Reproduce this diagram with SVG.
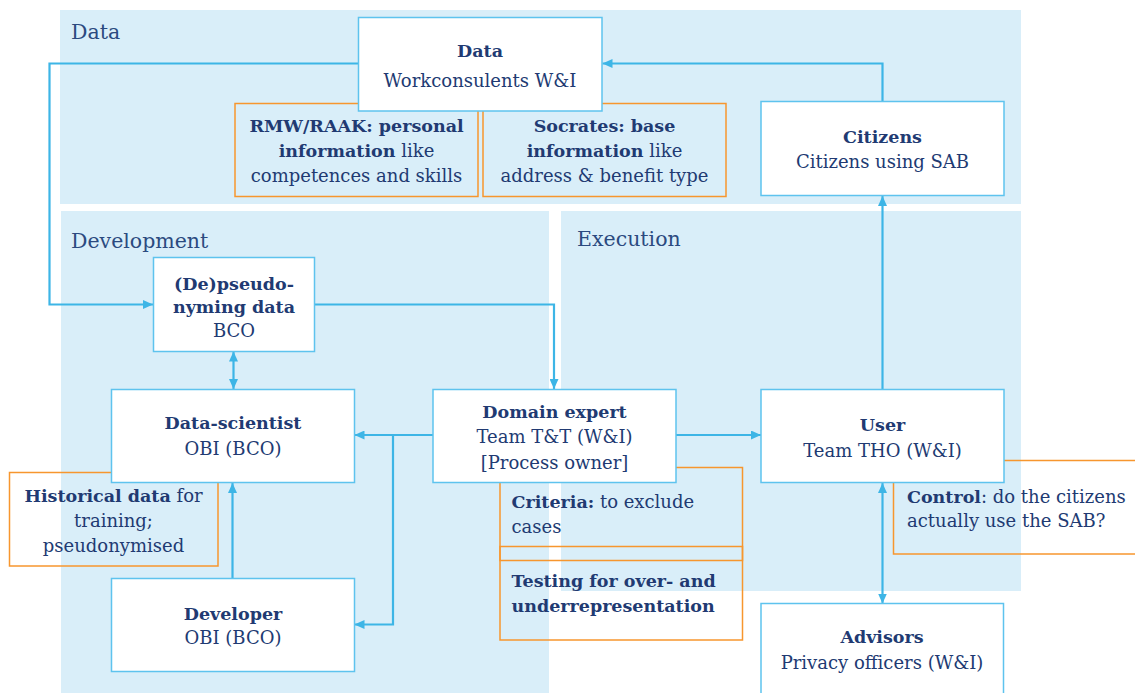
<svg xmlns="http://www.w3.org/2000/svg" width="1135" height="693" viewBox="0 0 1135 693">
  <defs>
    <marker id="arrow" viewBox="0 0 10 9" refX="10" refY="4.5" markerWidth="10" markerHeight="9" markerUnits="userSpaceOnUse" orient="auto-start-reverse">
      <path d="M0,0 L10,4.5 L0,9 z" fill="#3db5e6"/>
    </marker>
    <style>
      .panel { fill: #d9eef9; }
      .node { fill: #ffffff; stroke: #5ec3ee; stroke-width: 1.5; }
      .note { fill: none; stroke: #f7962e; stroke-width: 1.5; }
      .conn { fill: none; stroke: #3db5e6; stroke-width: 2.2; }
      text { font-family: "DejaVu Serif", "Liberation Serif", serif; font-size: 18px; fill: #213a72; }
      .c { text-anchor: middle; }
      .b { font-weight: bold; font-size: 17.5px; }
      .sec { font-size: 20.5px; fill: #2b4a80; }
    </style>
  </defs>

  <!-- swimlane backgrounds -->
  <g id="lanes">
    <rect class="panel" x="60" y="10" width="961" height="194"/>
    <rect class="panel" x="61" y="211" width="488" height="482"/>
    <rect class="panel" x="561" y="211" width="460" height="380"/>
    <text class="sec" x="71" y="39">Data</text>
    <text class="sec" x="71" y="248">Development</text>
    <text class="sec" x="577" y="246">Execution</text>
  </g>

  <!-- annotation boxes -->
  <g id="note-rmw">
    <rect class="note" x="235" y="103.5" width="243" height="93"/>
    <text class="c" x="356.5" y="132"><tspan class="b">RMW/RAAK: personal</tspan></text>
    <text class="c" x="356.5" y="157"><tspan class="b">information</tspan> like</text>
    <text class="c" x="356.5" y="182">competences and skills</text>
  </g>
  <g id="note-socrates">
    <rect class="note" x="483" y="103.5" width="243" height="93"/>
    <text class="c" x="604.5" y="132"><tspan class="b">Socrates: base</tspan></text>
    <text class="c" x="604.5" y="157"><tspan class="b">information</tspan> like</text>
    <text class="c" x="604.5" y="182">address &amp; benefit type</text>
  </g>
  <g id="note-historical">
    <rect class="note" x="9.5" y="472.5" width="208.5" height="93.5"/>
    <text class="c" x="113.5" y="501.5"><tspan class="b">Historical data</tspan> for</text>
    <text class="c" x="113.5" y="526.5">training;</text>
    <text class="c" x="113.5" y="551.5">pseudonymised</text>
  </g>
  <g id="note-criteria">
    <rect class="note" x="500" y="467.5" width="242.5" height="93"/>
    <text x="511.5" y="508"><tspan class="b">Criteria:</tspan> to exclude</text>
    <text x="511.5" y="533">cases</text>
  </g>
  <g id="note-testing">
    <rect class="note" x="500" y="546.5" width="242.5" height="93.5"/>
    <text class="b" x="511.5" y="586.5">Testing for over- and</text>
    <text class="b" x="511.5" y="611.5">underrepresentation</text>
  </g>
  <g id="note-control">
    <rect class="note" x="893.5" y="460.5" width="260" height="93.5"/>
    <text x="907" y="502.5"><tspan class="b">Control</tspan>: do the citizens</text>
    <text x="907" y="527">actually use the SAB?</text>
  </g>

  <!-- connectors -->
  <g id="connectors">
    <path class="conn" d="M358,63.5 H49.5 V304.5 H153" marker-end="url(#arrow)"/>
    <path class="conn" d="M882.5,101.5 V63.5 H602.5" marker-end="url(#arrow)"/>
    <path class="conn" d="M314.5,304.5 H554 V389" marker-end="url(#arrow)"/>
    <path class="conn" d="M233.5,351.5 V389" marker-start="url(#arrow)" marker-end="url(#arrow)"/>
    <path class="conn" d="M433,435 H354.5" marker-end="url(#arrow)"/>
    <path class="conn" d="M393,435 V624.5 H354.5" marker-end="url(#arrow)"/>
    <path class="conn" d="M232.5,578 V483" marker-end="url(#arrow)"/>
    <path class="conn" d="M676,435 H761" marker-end="url(#arrow)"/>
    <path class="conn" d="M882.5,389 V196" marker-end="url(#arrow)"/>
    <path class="conn" d="M882.5,483 V603.5" marker-start="url(#arrow)" marker-end="url(#arrow)"/>
  </g>

  <!-- nodes -->
  <g id="node-data">
    <rect class="node" x="358.5" y="17.5" width="243.5" height="93.5"/>
    <text class="c b" x="480" y="56.5">Data</text>
    <text class="c" x="480" y="86.5">Workconsulents W&amp;I</text>
  </g>
  <g id="node-citizens">
    <rect class="node" x="761" y="101.5" width="243" height="94"/>
    <text class="c b" x="882.5" y="143">Citizens</text>
    <text class="c" x="882.5" y="168">Citizens using SAB</text>
  </g>
  <g id="node-pseudo">
    <rect class="node" x="153.5" y="257.5" width="161" height="94"/>
    <text class="c b" x="234" y="289.5">(De)pseudo-</text>
    <text class="c b" x="234" y="312.5">nyming data</text>
    <text class="c" x="234" y="336.5">BCO</text>
  </g>
  <g id="node-datascientist">
    <rect class="node" x="111.5" y="389.5" width="243" height="93"/>
    <text class="c b" x="233" y="429">Data-scientist</text>
    <text class="c" x="233" y="455">OBI (BCO)</text>
  </g>
  <g id="node-developer">
    <rect class="node" x="111.5" y="578.5" width="243" height="93"/>
    <text class="c b" x="233" y="620">Developer</text>
    <text class="c" x="233" y="644">OBI (BCO)</text>
  </g>
  <g id="node-domain">
    <rect class="node" x="433" y="389.5" width="243" height="93"/>
    <text class="c b" x="554.5" y="418">Domain expert</text>
    <text class="c" x="554.5" y="443">Team T&amp;T (W&amp;I)</text>
    <text class="c" x="554.5" y="468.5">[Process owner]</text>
  </g>
  <g id="node-user">
    <rect class="node" x="761" y="389.5" width="243" height="93"/>
    <text class="c b" x="882.5" y="431">User</text>
    <text class="c" x="882.5" y="457">Team THO (W&amp;I)</text>
  </g>
  <g id="node-advisors">
    <rect class="node" x="761" y="603.5" width="242.5" height="95"/>
    <text class="c b" x="882" y="643">Advisors</text>
    <text class="c" x="882" y="669">Privacy officers (W&amp;I)</text>
  </g>
</svg>
